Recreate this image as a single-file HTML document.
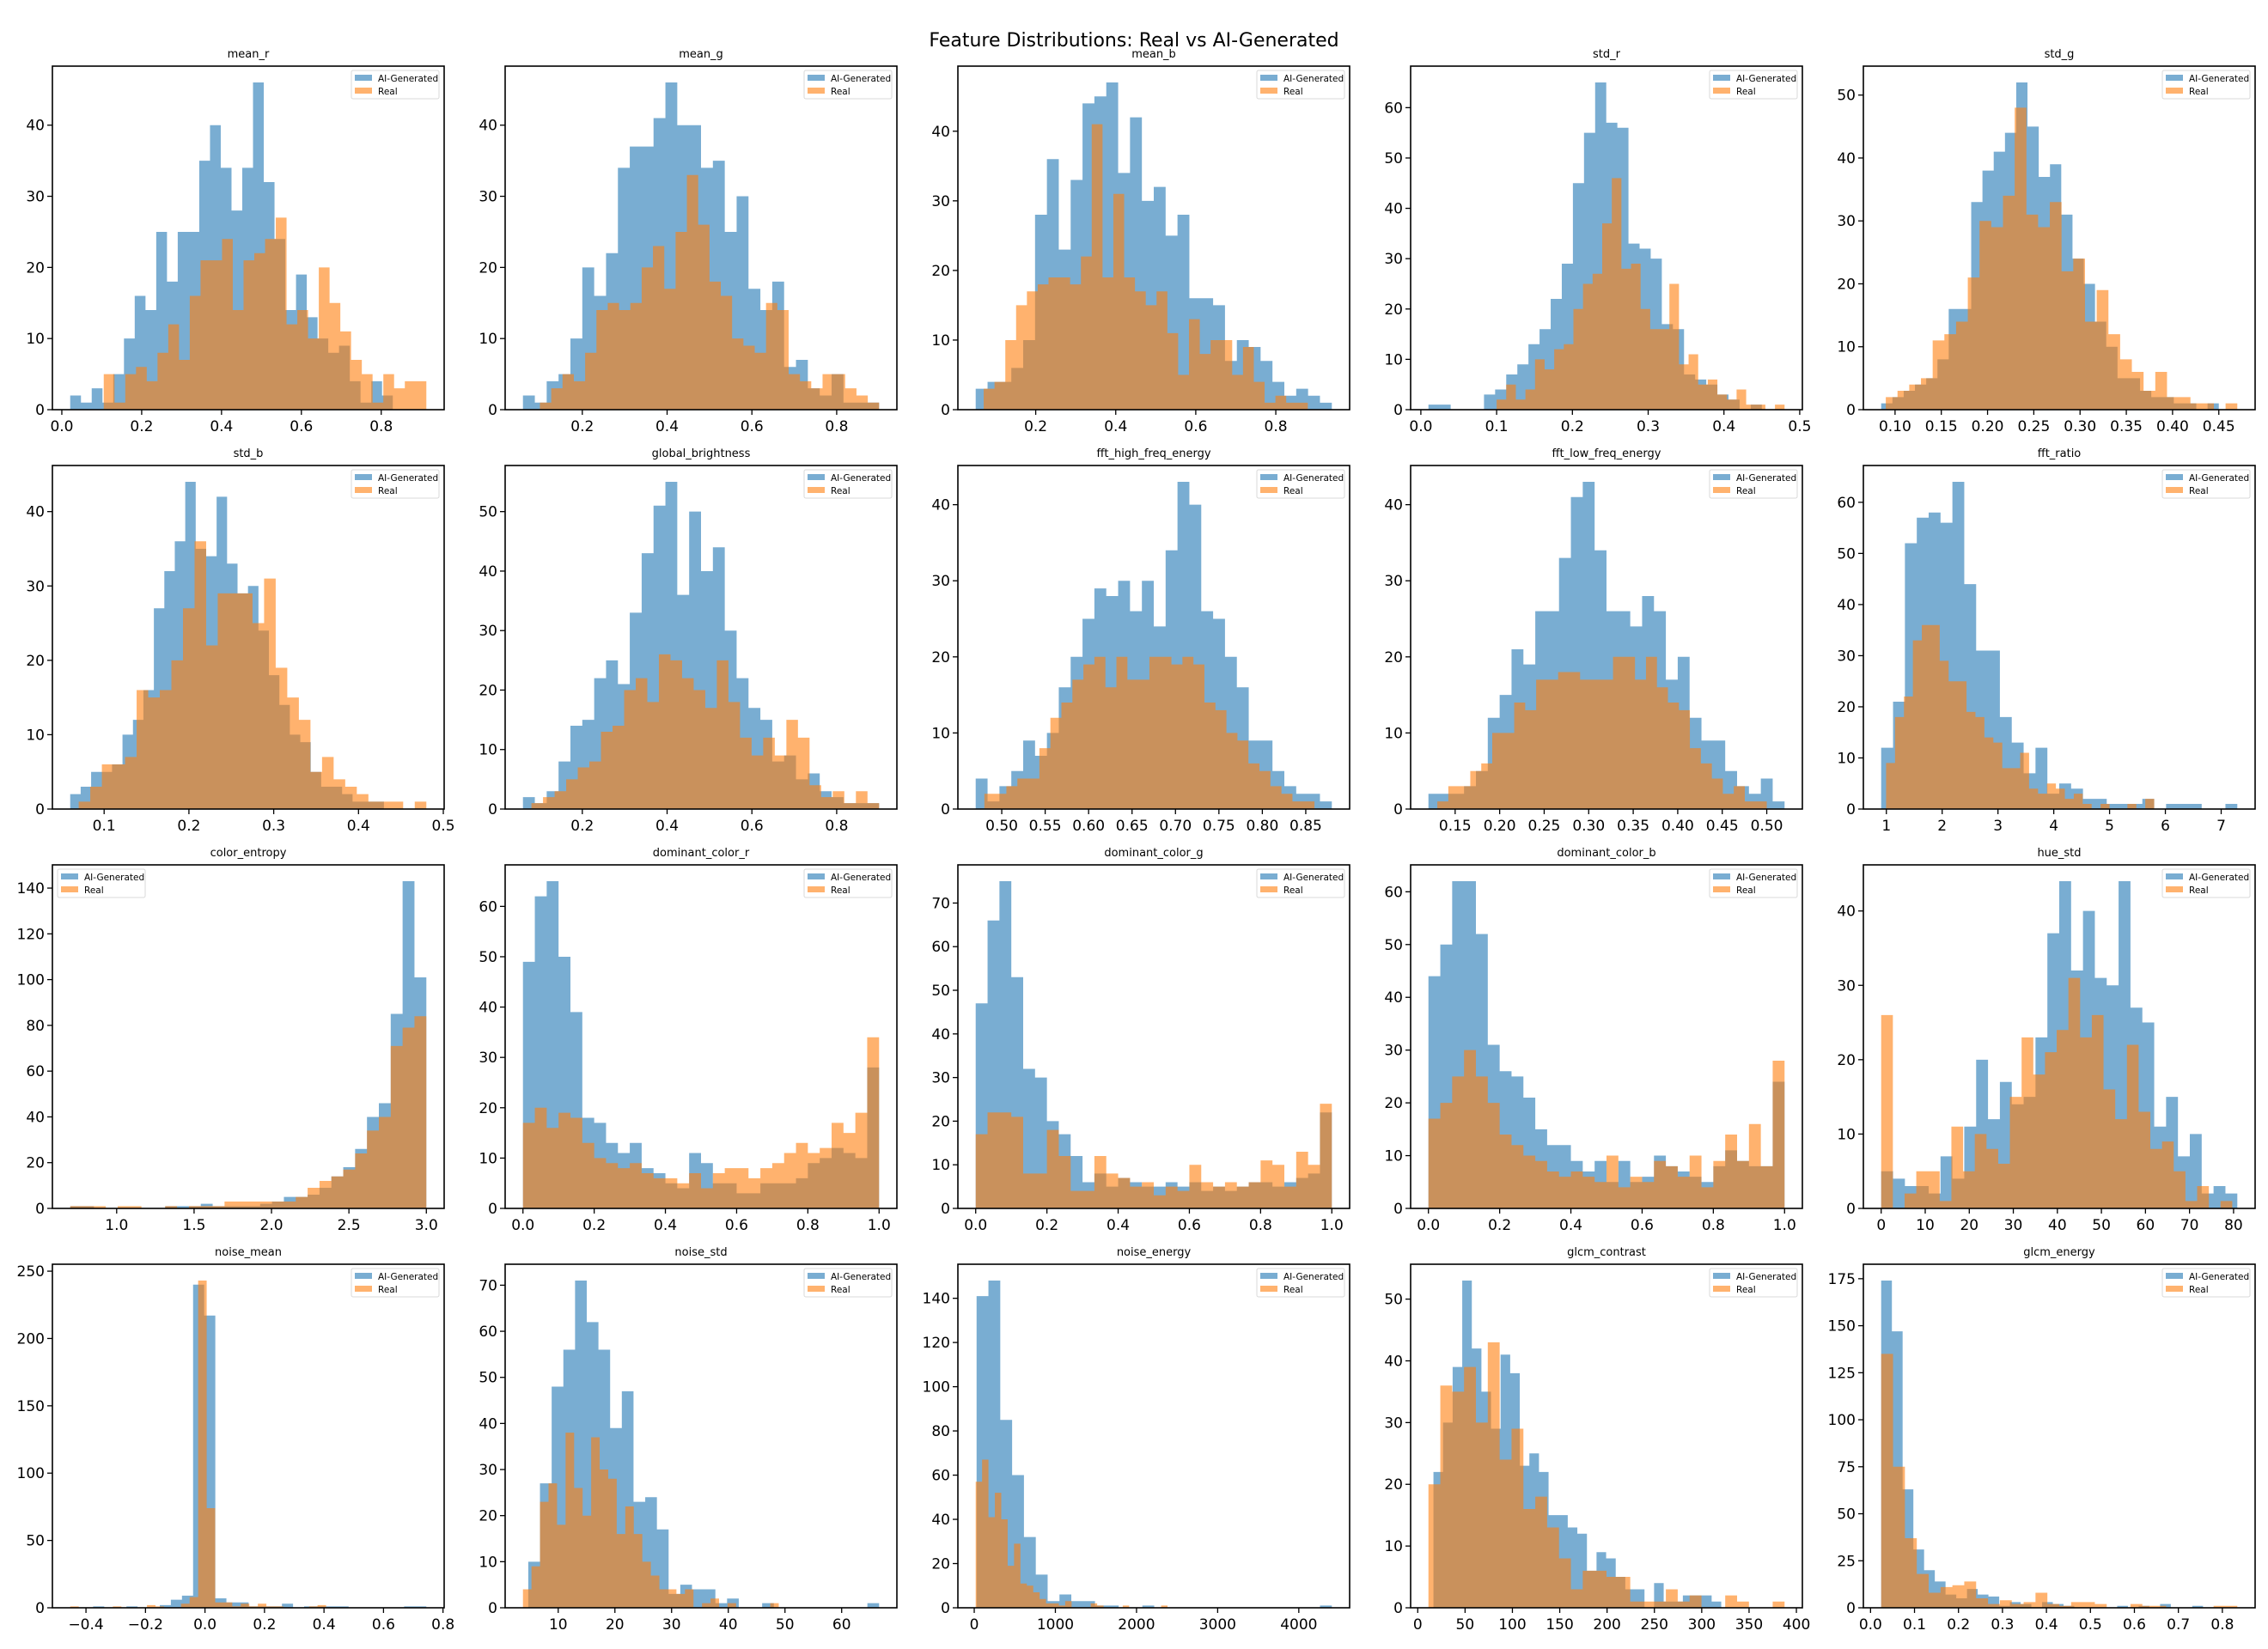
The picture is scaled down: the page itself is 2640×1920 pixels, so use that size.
<!DOCTYPE html>
<html><head><meta charset="utf-8"><style>
body{margin:0;background:#fff;}
svg{display:block;font-family:"DejaVu Sans","Liberation Sans",sans-serif;}
</style></head><body>
<svg id="fig" width="2640" height="1920" viewBox="0 0 2640 1920" xmlns="http://www.w3.org/2000/svg">
<rect width="2640" height="1920" fill="#fff"/>
<text x="1320" y="54" font-size="22" text-anchor="middle" fill="#000">Feature Distributions: Real vs AI-Generated</text>
</svg>
<script>
const titles = ["mean_r","mean_g","mean_b","std_r","std_g","std_b","global_brightness","fft_high_freq_energy","fft_low_freq_energy","fft_ratio","color_entropy","dominant_color_r","dominant_color_g","dominant_color_b","hue_std","noise_mean","noise_std","noise_energy","glcm_contrast","glcm_energy"];
// bin ranges [lo, hi] per subplot
const aiRanges = [[0.021,0.829],[0.06,0.9],[0.05,0.94],[0.01,0.45],[0.085,0.45],[0.06,0.43],[0.06,0.9],[0.47,0.88],[0.12,0.52],[0.907,7.289],[0.7,3.0],[0,1],[0,1],[0,1],[0,80.85],[-0.376,0.744],[4.72,66.6],[29,4407],[16.6,320.6],[0.0242,0.756]];
const realRanges = [[0.105,0.913],[0.1,0.9],[0.07,0.88],[0.1,0.48],[0.09,0.47],[0.07,0.48],[0.08,0.9],[0.48,0.86],[0.13,0.5],[0.995,5.8],[0.7,3.0],[0,1],[0,1],[0,1],[0,79.7],[-0.453,0.407],[3.78,48.9],[18,2382],[11.3,387.5],[0.0242,0.834]];
const aiCounts = [
[2,1,3,1,5,10,16,14,25,18,25,25,35,40,34,28,34,46,32,24,14,19,13,10,8,9,4,1,4,2],
[2,1,4,5,10,20,16,22,34,37,37,41,46,40,40,34,35,25,30,17,14,18,6,7,3,2,5,1,1,1],
[3,4,4,6,10,28,36,23,33,44,45,47,34,42,30,32,25,28,16,16,15,7,10,9,7,4,2,3,2,1],
[1,1,0,0,0,3,4,7,9,13,16,22,29,45,55,65,57,56,33,32,30,17,16,7,6,5,3,2,0,1],
[1,2,3,4,5,8,16,16,33,38,41,44,52,45,37,39,31,24,20,14,10,5,5,3,2,2,1,1,0,1],
[2,3,5,5,6,10,12,16,27,32,36,44,35,34,42,33,29,30,24,18,14,10,9,5,3,3,2,1,1,1],
[2,1,3,8,14,15,22,25,21,33,43,51,55,36,50,40,44,30,22,17,15,8,9,5,6,3,2,1,1,1],
[4,1,3,5,9,7,10,16,20,25,29,28,30,26,30,24,34,43,40,26,25,20,16,9,9,5,3,2,2,1],
[2,2,2,3,5,12,15,21,19,26,26,33,41,43,34,26,26,24,28,26,17,20,12,9,9,5,3,2,4,1],
[12,21,52,57,58,56,64,44,31,31,18,13,7,12,3,5,4,2,2,1,1,1,2,0,1,1,1,0,0,1],
[1,1,0,0,0,0,0,0,1,1,1,2,1,1,1,1,2,3,5,5,6,9,14,18,26,40,46,85,143,101],
[49,62,65,50,39,18,17,13,11,13,8,7,5,4,11,9,5,5,3,3,5,5,5,6,9,10,12,11,10,28],
[47,66,75,53,32,30,20,17,12,6,8,5,7,6,5,5,6,5,6,4,5,4,5,6,6,5,6,7,8,22],
[44,50,62,62,52,31,26,25,21,15,12,12,9,7,9,5,9,5,6,10,8,7,6,5,8,11,9,8,8,24],
[5,4,3,3,2,7,4,11,20,12,17,14,15,23,37,44,32,40,31,30,44,27,25,11,15,7,10,2,3,2],
[1,0,0,1,0,0,2,6,9,240,217,7,4,4,1,1,1,3,0,1,1,1,1,0,0,0,0,0,1,1],
[10,27,48,56,71,62,56,39,47,23,24,17,3,5,4,4,1,2,0,0,1,0,0,0,0,0,0,0,0,1],
[141,148,85,60,32,15,3,6,3,3,1,1,0,0,1,0,0,0,0,0,0,0,0,0,0,0,0,0,0,1],
[22,30,39,53,42,35,29,41,38,23,25,22,15,15,13,12,6,9,8,5,3,3,0,4,1,1,2,2,2,1],
[174,147,63,31,20,14,7,5,10,7,6,1,3,2,0,3,2,1,0,0,0,0,1,0,1,0,2,0,0,1]];
const realCounts = [
[5,1,5,6,4,8,12,7,16,21,21,24,14,21,22,24,27,12,14,10,20,15,11,7,5,1,5,3,4,4],
[1,3,5,4,8,14,15,14,15,20,23,17,25,33,26,18,16,10,9,8,15,14,5,4,3,5,5,3,2,1],
[3,4,10,15,17,18,19,19,18,22,41,19,31,19,17,15,17,11,5,13,8,10,10,5,9,4,1,2,1,1],
[2,5,2,4,10,8,12,13,20,25,27,37,46,28,29,20,16,16,25,9,11,5,6,3,2,4,1,1,0,1],
[2,3,4,5,11,12,14,21,30,29,34,48,31,29,33,22,24,14,19,12,8,6,3,6,2,2,1,1,0,1],
[1,3,6,6,7,16,15,16,20,27,36,22,29,29,29,25,31,19,15,12,5,7,4,3,2,1,1,1,0,1],
[1,2,3,5,7,8,13,14,20,22,18,26,25,22,20,17,25,18,12,9,12,9,15,12,4,2,3,1,3,1],
[2,2,3,4,4,8,12,14,17,19,20,16,20,17,17,20,20,19,20,19,14,13,10,9,6,5,3,2,1,1],
[1,3,3,5,6,10,10,14,13,17,17,18,18,17,17,17,20,20,17,20,16,14,13,8,6,4,2,3,1,1],
[9,18,22,33,36,36,29,25,25,19,18,14,13,8,8,11,4,3,5,4,2,3,1,0,1,0,0,1,0,2],
[1,1,1,0,1,1,0,0,1,0,1,1,1,3,3,3,3,3,3,5,9,12,14,17,24,34,40,71,79,84],
[17,20,16,19,18,13,10,9,8,9,7,6,6,5,7,4,7,8,8,6,8,9,11,13,11,12,17,15,19,34],
[17,22,22,21,8,8,18,12,4,4,12,8,7,5,6,3,5,4,10,6,5,6,5,6,11,10,5,13,10,24],
[17,20,25,30,25,20,14,12,10,9,7,6,7,6,5,10,4,6,5,9,8,6,10,4,9,14,9,16,8,28],
[26,0,2,5,5,1,11,5,10,8,6,15,23,18,21,24,31,23,26,16,12,22,13,8,9,5,1,3,0,1],
[1,0,0,0,0,1,0,0,0,2,1,0,0,3,8,243,74,4,4,1,3,1,3,1,1,0,0,0,1,2],
[4,9,23,27,18,38,26,20,37,30,28,16,22,16,10,7,4,4,3,4,0,1,2,0,1,0,0,0,0,1],
[57,67,41,52,40,19,29,11,10,7,4,2,2,1,3,0,0,0,2,1,0,0,0,1,0,0,0,0,0,1],
[20,36,35,39,30,43,24,29,16,18,13,8,3,6,6,5,5,1,1,1,3,1,2,0,0,2,1,0,0,1],
[135,75,37,18,8,11,12,14,5,2,4,2,3,8,2,1,3,3,2,0,0,2,1,1,0,0,0,0,1,1]];
const xTicks = [
[0,0.2,0.4,0.6,0.8],[0.2,0.4,0.6,0.8],[0.2,0.4,0.6,0.8],[0,0.1,0.2,0.3,0.4,0.5],[0.1,0.15,0.2,0.25,0.3,0.35,0.4,0.45],
[0.1,0.2,0.3,0.4,0.5],[0.2,0.4,0.6,0.8],[0.5,0.55,0.6,0.65,0.7,0.75,0.8,0.85],[0.15,0.2,0.25,0.3,0.35,0.4,0.45,0.5],[1,2,3,4,5,6,7],
[1,1.5,2,2.5,3],[0,0.2,0.4,0.6,0.8,1],[0,0.2,0.4,0.6,0.8,1],[0,0.2,0.4,0.6,0.8,1],[0,10,20,30,40,50,60,70,80],
[-0.4,-0.2,0,0.2,0.4,0.6,0.8],[10,20,30,40,50,60],[0,1000,2000,3000,4000],[0,50,100,150,200,250,300,350,400],[0,0.1,0.2,0.3,0.4,0.5,0.6,0.7,0.8]];
const xTickLabels = [
["0.0","0.2","0.4","0.6","0.8"],["0.2","0.4","0.6","0.8"],["0.2","0.4","0.6","0.8"],["0.0","0.1","0.2","0.3","0.4","0.5"],["0.10","0.15","0.20","0.25","0.30","0.35","0.40","0.45"],
["0.1","0.2","0.3","0.4","0.5"],["0.2","0.4","0.6","0.8"],["0.50","0.55","0.60","0.65","0.70","0.75","0.80","0.85"],["0.15","0.20","0.25","0.30","0.35","0.40","0.45","0.50"],["1","2","3","4","5","6","7"],
["1.0","1.5","2.0","2.5","3.0"],["0.0","0.2","0.4","0.6","0.8","1.0"],["0.0","0.2","0.4","0.6","0.8","1.0"],["0.0","0.2","0.4","0.6","0.8","1.0"],["0","10","20","30","40","50","60","70","80"],
["−0.4","−0.2","0.0","0.2","0.4","0.6","0.8"],["10","20","30","40","50","60"],["0","1000","2000","3000","4000"],["0","50","100","150","200","250","300","350","400"],["0.0","0.1","0.2","0.3","0.4","0.5","0.6","0.7","0.8"]];
const yTicks = [
[0,10,20,30,40],[0,10,20,30,40],[0,10,20,30,40],[0,10,20,30,40,50,60],[0,10,20,30,40,50],
[0,10,20,30,40],[0,10,20,30,40,50],[0,10,20,30,40],[0,10,20,30,40],[0,10,20,30,40,50,60],
[0,20,40,60,80,100,120,140],[0,10,20,30,40,50,60],[0,10,20,30,40,50,60,70],[0,10,20,30,40,50,60],[0,10,20,30,40],
[0,50,100,150,200,250],[0,10,20,30,40,50,60,70],[0,20,40,60,80,100,120,140],[0,10,20,30,40,50],[0,25,50,75,100,125,150,175]];
const legendLeft = [10];

const NS = "http://www.w3.org/2000/svg";
const svg = document.getElementById('fig');
const colL = [61,588,1115,1642,2169], rowT = [77,542,1007,1472], AW = 456, AH = 400;
function mk(tag, attrs, parent){ const e = document.createElementNS(NS, tag); for (const k in attrs) e.setAttribute(k, attrs[k]); (parent||svg).appendChild(e); return e; }

titles.forEach((title, i) => {
  const L = colL[i%5], T = rowT[Math.floor(i/5)], B = T+AH, R = L+AW;
  const g = mk('g', {});
  
  
  const lo = Math.min(aiRanges[i][0], realRanges[i][0]), hi = Math.max(aiRanges[i][1], realRanges[i][1]);
  const pad = (hi-lo)*0.05, d0 = lo-pad, d1 = hi+pad;
  const ymax = Math.max(...aiCounts[i], ...realCounts[i]) * 1.05;
  const xs = v => L + (v-d0)/(d1-d0)*AW;
  const ys = v => B - v/ymax*AH;
  const series = [[aiRanges[i], aiCounts[i], 'rgba(31,119,180,0.6)', 'ai-bars'], [realRanges[i], realCounts[i], 'rgba(255,127,14,0.6)', 'real-bars']];
  series.forEach(([rg, cnt, col, nm]) => {
    const w = (rg[1]-rg[0])/cnt.length;
    let d = 'M' + xs(rg[0]).toFixed(2) + ' ' + B;
    cnt.forEach((c, k) => {
      const x0 = xs(rg[0]+k*w), x1 = xs(rg[0]+(k+1)*w), y = ys(c);
      d += ' L' + x0.toFixed(2) + ' ' + y.toFixed(2) + ' L' + x1.toFixed(2) + ' ' + y.toFixed(2);
    });
    d += ' L' + xs(rg[1]).toFixed(2) + ' ' + B + ' Z';
    const p = mk('path', {d:d, fill:col}, g);
    
    
  });
  const frame = mk('rect', {x:L, y:T, width:AW, height:AH, fill:'none', stroke:'#000', 'stroke-width':1.6}, g);
  
  
  const t = mk('text', {x:L+AW/2, y:T-10, 'font-size':13, 'text-anchor':'middle'}, g);
  t.textContent = title;
  
  
  xTicks[i].forEach((v, k) => {
    const x = xs(v);
    mk('line', {x1:x, x2:x, y1:B, y2:B+6, stroke:'#000', 'stroke-width':1.3}, g);
    const tl = mk('text', {x:x, y:B+25, 'font-size':17, 'text-anchor':'middle'}, g);
    tl.textContent = xTickLabels[i][k];
    
    
  });
  yTicks[i].forEach(v => {
    const y = ys(v);
    mk('line', {x1:L-6, x2:L, y1:y, y2:y, stroke:'#000', 'stroke-width':1.3}, g);
    const tl = mk('text', {x:L-9, y:y+6, 'font-size':17, 'text-anchor':'end'}, g);
    tl.textContent = String(v);
    
    
  });
  const lx = legendLeft.includes(i) ? L+6 : R-108, ly = T+5;
  const lg = mk('g', {}, g);
  
  
  mk('rect', {x:lx, y:ly, width:102, height:33, rx:2, fill:'rgba(255,255,255,0.8)', stroke:'#d8d8d8', 'stroke-width':1}, lg);
  [['AI-Generated','rgba(31,119,180,0.6)'],['Real','rgba(255,127,14,0.6)']].forEach(([lab,col],k) => {
    mk('rect', {x:lx+4, y:ly+5+k*15, width:20, height:7, fill:col}, lg);
    const tt = mk('text', {x:lx+31, y:ly+13+k*15, 'font-size':10.5}, lg);
    tt.textContent = lab;
    
    
  });
});
</script>
</body></html>
